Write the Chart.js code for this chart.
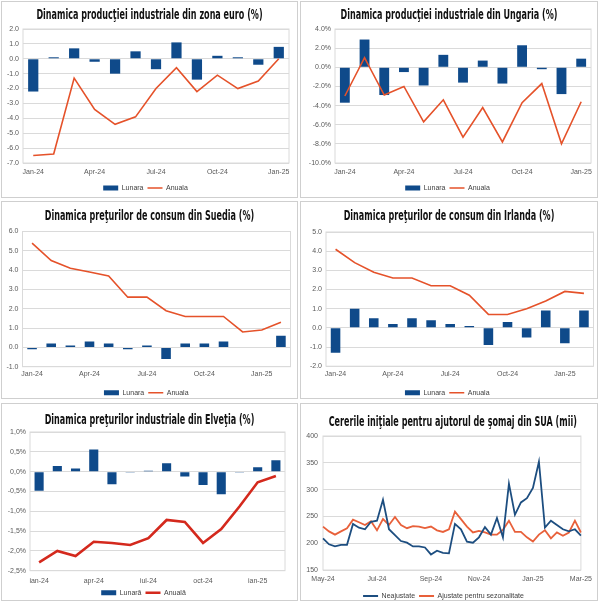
<!DOCTYPE html>
<html>
<head>
<meta charset="utf-8">
<script src="https://cdn.jsdelivr.net/npm/chart.js@4.4.1/dist/chart.umd.min.js"></script>
<style>
  body { margin: 0; background: #fff; width: 600px; height: 602px; position: relative; overflow: hidden; }
  .panel { position: absolute; box-sizing: border-box; border: 1px solid #cfcfcf; background: #fff; overflow: hidden; }
  .panel canvas { position: absolute; left: 0; top: 0; }
  .title { position: absolute; left: -40px; right: -40px; text-align: center; white-space: nowrap; z-index: 2;
           font-family: 'Liberation Sans Narrow', 'DejaVu Sans Condensed', sans-serif; font-weight: bold;
           font-size: 14px; line-height: 16px; color: #111; transform: scaleX(0.64); }
</style>
</head>
<body>
<div class="panel" style="left:1px;top:1px;width:297px;height:197px">
  <div class="title" style="top:4px">Dinamica producţiei industriale din zona euro (%)</div>
  <canvas id="c1" width="295" height="195"></canvas>
</div>
<div class="panel" style="left:300px;top:1px;width:298px;height:197px">
  <div class="title" style="top:4px">Dinamica producţiei industriale din Ungaria (%)</div>
  <canvas id="c2" width="296" height="195"></canvas>
</div>
<div class="panel" style="left:1px;top:201px;width:297px;height:198px">
  <div class="title" style="top:5px">Dinamica preţurilor de consum din Suedia (%)</div>
  <canvas id="c3" width="295" height="196"></canvas>
</div>
<div class="panel" style="left:300px;top:201px;width:298px;height:198px">
  <div class="title" style="top:5px">Dinamica preţurilor de consum din Irlanda (%)</div>
  <canvas id="c4" width="296" height="196"></canvas>
</div>
<div class="panel" style="left:1px;top:403px;width:297px;height:198px">
  <div class="title" style="top:7px">Dinamica preţurilor industriale din Elveţia (%)</div>
  <canvas id="c5" width="295" height="196"></canvas>
</div>
<div class="panel" style="left:300px;top:403px;width:298px;height:198px">
  <div class="title" style="top:9px">Cererile iniţiale pentru ajutorul de şomaj din SUA (mii)</div>
  <canvas id="c6" width="296" height="196"></canvas>
</div>

<script>
// --- data -----------------------------------------------------------------
const months13 = ['Jan-24', 'Feb-24', 'Mar-24', 'Apr-24', 'May-24', 'Jun-24', 'Jul-24',
  'Aug-24', 'Sep-24', 'Oct-24', 'Nov-24', 'Dec-24', 'Jan-25'];
const months14 = months13.concat(['Feb-25']);
const monthsRo14 = ['ian-24', 'feb-24', 'mar-24', 'apr-24', 'mai-24', 'iun-24', 'iul-24',
  'aug-24', 'sep-24', 'oct-24', 'noi-24', 'dec-24', 'ian-25', 'feb-25'];

const euroMonthly = [-2.2, 0.1, 0.7, -0.2, -1.0, 0.5, -0.7, 1.1, -1.4, 0.2, 0.1, -0.4, 0.8];
const euroAnnual = [-6.5, -6.4, -1.3, -3.4, -4.4, -3.9, -2.0, -0.6, -2.2, -1.1, -2.0, -1.5, 0.0];

const huMonthly = [-3.7, 2.9, -2.9, -0.5, -1.9, 1.3, -1.6, 0.7, -1.7, 2.3, -0.2, -2.8, 0.9];
const huAnnual = [-3.0, 1.0, -2.9, -2.0, -5.7, -3.4, -7.3, -4.2, -7.8, -3.7, -1.7, -8.0, -3.6];

const seMonthly = [-0.1, 0.2, 0.1, 0.3, 0.2, -0.1, 0.1, -0.6, 0.2, 0.2, 0.3, 0.0, 0.0, 0.6];
const seAnnual = [5.4, 4.5, 4.1, 3.9, 3.7, 2.6, 2.6, 1.9, 1.6, 1.6, 1.6, 0.8, 0.9, 1.3];

const ieMonthly = [-1.3, 1.0, 0.5, 0.2, 0.5, 0.4, 0.2, 0.1, -0.9, 0.3, -0.5, 0.9, -0.8, 0.9];
const ieAnnual = [4.1, 3.4, 2.9, 2.6, 2.6, 2.2, 2.2, 1.7, 0.7, 0.7, 1.0, 1.4, 1.9, 1.8];

const chMonthly = [-0.48, 0.14, 0.08, 0.56, -0.32, -0.02, 0.02, 0.21, -0.12, -0.34, -0.57, -0.01, 0.11, 0.29];
const chAnnual = [-2.29, -2.0, -2.13, -1.77, -1.8, -1.85, -1.68, -1.22, -1.27, -1.8, -1.45, -0.88, -0.27, -0.11];

const weeks = ['2024-05-04', '2024-05-11', '2024-05-18', '2024-05-25', '2024-06-01', '2024-06-08',
  '2024-06-15', '2024-06-22', '2024-06-29', '2024-07-06', '2024-07-13', '2024-07-20', '2024-07-27',
  '2024-08-03', '2024-08-10', '2024-08-17', '2024-08-24', '2024-08-31', '2024-09-07', '2024-09-14',
  '2024-09-21', '2024-09-28', '2024-10-05', '2024-10-12', '2024-10-19', '2024-10-26', '2024-11-02',
  '2024-11-09', '2024-11-16', '2024-11-23', '2024-11-30', '2024-12-07', '2024-12-14', '2024-12-21',
  '2024-12-28', '2025-01-04', '2025-01-11', '2025-01-18', '2025-01-25', '2025-02-01', '2025-02-08',
  '2025-02-15', '2025-02-22', '2025-03-01'];
const claimsNsa = [209, 198, 194, 197, 197, 236, 229, 226, 240, 242, 281, 226, 215, 204, 201,
  194, 194, 192, 179, 186, 182, 181, 236, 226, 203, 201, 211, 230, 216, 247,
  211, 311, 253, 276, 284, 303, 352, 229, 242, 234, 226, 222, 226, 214];
const claimsSa = [231, 222, 216, 222, 228, 244, 239, 234, 241, 224, 245, 234, 249, 234, 228,
  232, 231, 228, 231, 224, 221, 226, 259, 245, 231, 220, 223, 220, 216, 216,
  225, 242, 221, 221, 211, 203, 216, 224, 209, 220, 214, 220, 242, 220];
const monthShort = ['Jan', 'Feb', 'Mar', 'Apr', 'May', 'Jun', 'Jul', 'Aug', 'Sep', 'Oct', 'Nov', 'Dec'];

// --- styling ---------------------------------------------------------------
const BLUE = '#0f4a8a';
const ORANGE = '#e5522a';
const GRID = '#dadada';

Chart.defaults.font.family = "'Liberation Sans', Arial, sans-serif";
Chart.defaults.font.size = 7;
Chart.defaults.color = '#595959';
Chart.defaults.animation = false;

const plotFrame = {
  id: 'plotFrame',
  beforeDatasetsDraw(chart) {
    const { ctx, chartArea: a } = chart;
    ctx.save();
    ctx.strokeStyle = GRID;
    ctx.lineWidth = 1;
    ctx.strokeRect(a.left, a.top, a.right - a.left, a.bottom - a.top);
    ctx.restore();
  }
};

function legendOpts() {
  return {
    position: 'bottom',
    labels: {
      usePointStyle: true,
      pointStyleWidth: 15,
      boxHeight: 5,
      padding: 4,
      color: '#404040',
      sort: (a, b) => a.datasetIndex - b.datasetIndex,
      generateLabels(chart) {
        return Chart.defaults.plugins.legend.labels.generateLabels(chart).map(l => {
          const t = chart.data.datasets[l.datasetIndex].type || chart.config.type;
          l.pointStyle = t === 'line' ? 'line' : 'rect';
          return l;
        });
      }
    }
  };
}

// o: labels, bars, line, names, y range, layout numbers
function comboChart(id, o) {
  return new Chart(document.getElementById(id), {
    type: 'bar',
    data: {
      labels: o.labels,
      datasets: [
        { type: 'bar', label: o.names[0], data: o.bars, backgroundColor: BLUE,
          barPercentage: 0.5, categoryPercentage: 1, order: 1 },
        { type: 'line', label: o.names[1], data: o.line, borderColor: o.lineColor || ORANGE,
          backgroundColor: o.lineColor || ORANGE, borderWidth: o.lineWidth || 1.6,
          pointRadius: 0, tension: 0, order: 0 }
      ]
    },
    options: {
      responsive: false,
      layout: { padding: { top: o.top, right: o.right, bottom: o.pb, left: 0 } },
      plugins: { legend: legendOpts(), tooltip: { enabled: false } },
      scales: {
        x: {
          grid: { display: false, drawTicks: false }, border: { display: false },
          ticks: { autoSkip: false, maxRotation: 0, padding: o.xpad,
            callback: function (v, i) { return i % 3 === 0 ? this.getLabelForValue(v) : ''; } },
          afterFit: s => { s.height = o.xh; }
        },
        y: {
          min: o.min, max: o.max,
          grid: { color: GRID, drawTicks: false }, border: { display: false },
          ticks: { stepSize: o.step, padding: 4, callback: o.fmt },
          afterFit: s => { s.width = o.left; }
        }
      }
    },
    plugins: [plotFrame]
  });
}

const fix1 = v => v.toFixed(1);

comboChart('c1', { labels: months13, bars: euroMonthly, line: euroAnnual, names: ['Lunara', 'Anuala'],
  min: -7, max: 2, step: 1, fmt: fix1,
  top: 27, right: 8, left: 21, pb: -4.5, xh: 17.5, xpad: 5 });

comboChart('c2', { labels: months13, bars: huMonthly, line: huAnnual, names: ['Lunara', 'Anuala'],
  min: -10, max: 4, step: 2, fmt: v => v.toFixed(1) + '%',
  top: 27, right: 3, left: 34, pb: -4.5, xh: 17.5, xpad: 5 });

comboChart('c3', { labels: months14, bars: seMonthly, line: seAnnual, names: ['Lunara', 'Anuala'],
  min: -1, max: 6, step: 1, fmt: fix1,
  top: 29.5, right: 6.5, left: 20.5, pb: -8.2, xh: 18.5, xpad: 3 });

comboChart('c4', { labels: months14, bars: ieMonthly, line: ieAnnual, names: ['Lunara', 'Anuala'],
  min: -2, max: 5, step: 1, fmt: fix1,
  top: 30, right: 3.5, left: 25, pb: -8.2, xh: 19, xpad: 4 });

comboChart('c5', { labels: monthsRo14, bars: chMonthly, line: chAnnual, names: ['Lunară', 'Anuală'],
  lineColor: '#d4291d', lineWidth: 2.6,
  min: -2.5, max: 1, step: 0.5, fmt: v => v.toFixed(1).replace('.', ',') + '%',
  top: 28, right: 12, left: 28, pb: -6.2, xh: 14.5, xpad: 6 });

new Chart(document.getElementById('c6'), {
  type: 'line',
  data: {
    labels: weeks,
    datasets: [
      { label: 'Neajustate', data: claimsNsa, borderColor: '#1d4e80', backgroundColor: '#1d4e80',
        borderWidth: 1.8, pointRadius: 0, tension: 0 },
      { label: 'Ajustate pentru sezonalitate', data: claimsSa, borderColor: '#e8603a',
        backgroundColor: '#e8603a', borderWidth: 1.8, pointRadius: 0, tension: 0 }
    ]
  },
  options: {
    responsive: false,
    layout: { padding: { top: 32, right: 11, bottom: -9.5, left: 0 } },
    plugins: { legend: legendOpts(), tooltip: { enabled: false } },
    scales: {
      x: {
        grid: { display: false, drawTicks: false }, border: { display: false },
        ticks: { autoSkip: false, maxRotation: 0, padding: 5,
          callback: (v, i) => {
            const d = weeks[i];
            const m = +d.slice(5, 7), day = +d.slice(8, 10);
            return (m % 2 === 1 && day <= 7) ? monthShort[m - 1] + '-' + d.slice(2, 4) : '';
          } },
        afterFit: s => { s.height = 18.5; }
      },
      y: {
        min: 150, max: 400,
        grid: { color: GRID, drawTicks: false }, border: { display: false },
        ticks: { stepSize: 50, padding: 5 },
        afterFit: s => { s.width = 22; }
      }
    }
  },
  plugins: [plotFrame]
});
</script>
</body>
</html>
